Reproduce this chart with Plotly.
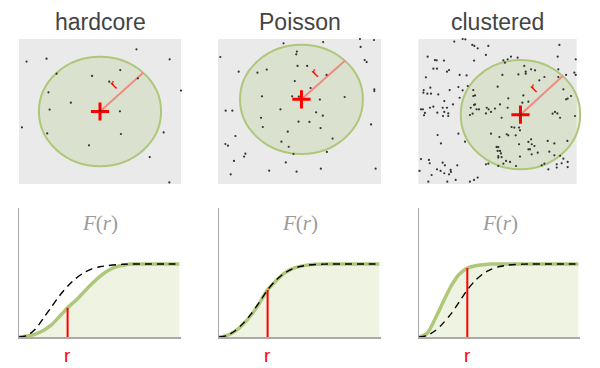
import math
import plotly.graph_objects as go

# ---------------- data ----------------
panel_titles = ["hardcore", "Poisson", "clustered"]

hardcore_x = [0.047, 0.170, 0.725, 0.930, 0.232, 0.451, 0.625, 0.557, 0.734, 1.000, 0.182,
              0.320, 0.189, 0.500, 0.623, 0.018, 0.174, 0.893, 0.629, 0.432, 0.807, 0.928]
hardcore_y = [0.844, 0.864, 0.929, 0.860, 0.761, 0.745, 0.786, 0.706, 0.729, 0.644, 0.632,
              0.561, 0.513, 0.505, 0.501, 0.391, 0.349, 0.356, 0.345, 0.267, 0.186, 0.011]

poisson_x = [0.402, 0.645, 0.871, 0.957, 0.014, 0.484, 0.480, 0.875, 0.900, 0.912, 0.127,
             0.242, 0.299, 0.488, 0.547, 0.666, 0.471, 0.568, 0.959, 0.959, 0.270, 0.455,
             0.496, 0.625, 0.777, 0.047, 0.088, 0.383, 0.602, 0.643, 0.264, 0.275, 0.494,
             0.561, 0.629, 0.939, 0.107, 0.428, 0.703, 0.045, 0.061, 0.389, 0.434, 0.168,
             0.160, 0.463, 0.668, 0.098, 0.416, 0.078, 0.314, 0.482, 0.631, 0.967]
poisson_y = [0.970, 0.979, 1.000, 0.993, 0.876, 0.913, 0.894, 0.945, 0.855, 0.841, 0.775,
             0.768, 0.789, 0.814, 0.814, 0.752, 0.710, 0.662, 0.653, 0.641, 0.605, 0.605,
             0.602, 0.582, 0.600, 0.506, 0.506, 0.515, 0.494, 0.471, 0.457, 0.393, 0.430,
             0.428, 0.386, 0.411, 0.331, 0.361, 0.313, 0.276, 0.264, 0.292, 0.257, 0.209,
             0.189, 0.207, 0.221, 0.159, 0.149, 0.067, 0.092, 0.085, 0.106, 0.106]

clustered_x = [0.227, 0.280, 0.297, 0.341, 0.354, 0.375, 0.442, 0.427, 0.059, 0.105, 0.116,
               0.162, 0.352, 0.095, 0.118, 0.181, 0.194, 0.261, 0.305, 0.048, 0.076, 0.253,
               0.312, 0.034, 0.032, 0.057, 0.080, 0.198, 0.280, 0.347, 0.126, 0.358, 0.347,
               0.261, 0.164, 0.219, 0.074, 0.095, 0.358, 0.154, 0.181, 0.017, 0.029, 0.331,
               0.352, 0.368, 0.383, 0.432, 0.444, 0.484, 0.427, 0.120, 0.164, 0.042, 0.036,
               0.189, 0.189, 0.156, 0.343, 0.326, 0.459, 0.122, 0.253, 0.143, 0.295, 0.459,
               0.495, 0.501, 0.017, 0.067, 0.072, 0.154, 0.168, 0.118, 0.141, 0.204, 0.206,
               0.164, 0.084, 0.194, 0.008, 0.246, 0.427, 0.442, 0.063, 0.183, 0.236, 0.326,
               0.375, 0.352, 0.505, 0.505,
               0.891, 0.994, 0.880, 0.585, 0.564, 0.537, 0.627, 0.547, 0.669, 0.737, 0.712,
               0.678, 0.678, 0.632, 0.531, 0.884, 0.933, 0.985, 0.994, 0.796, 0.884, 0.764,
               0.916, 0.964, 0.943, 0.933, 0.501, 0.568, 0.663, 0.657, 0.695, 0.516, 0.564,
               0.863, 0.878, 0.848, 0.895, 0.989, 0.526, 0.589, 0.606, 0.636, 0.642, 0.558,
               0.568, 0.615, 0.512, 0.712, 0.695, 0.636, 0.716, 0.733, 0.695, 0.705, 0.495,
               0.505, 0.516, 0.522, 0.505, 0.526, 0.817, 0.859, 0.827, 0.941, 0.754, 0.716,
               0.642, 0.554, 0.579, 0.537, 0.796, 0.779, 0.859, 0.895, 0.916, 0.943, 0.905,
               0.943, 0.821, 0.874, 0.874, 0.617, 0.645]
clustered_y = [0.982, 1.000, 0.998, 0.959, 0.952, 0.936, 0.952, 0.890, 0.878, 0.855, 0.853,
               0.851, 0.851, 0.795, 0.795, 0.775, 0.786, 0.752, 0.749, 0.736, 0.664, 0.669,
               0.676, 0.648, 0.630, 0.623, 0.623, 0.648, 0.646, 0.648, 0.618, 0.611, 0.607,
               0.595, 0.572, 0.549, 0.526, 0.533, 0.549, 0.526, 0.526, 0.515, 0.515, 0.526,
               0.545, 0.515, 0.515, 0.526, 0.515, 0.520, 0.487, 0.492, 0.497, 0.490, 0.474,
               0.487, 0.469, 0.469, 0.485, 0.476, 0.497, 0.338, 0.347, 0.280, 0.292, 0.347,
               0.257, 0.228, 0.172, 0.166, 0.143, 0.147, 0.129, 0.101, 0.090, 0.097, 0.083,
               0.074, 0.062, 0.067, 0.090, 0.129, 0.136, 0.140, 0.016, 0.016, 0.028, 0.016,
               0.044, 0.028, 0.182, 0.124,
               0.959, 0.860, 0.878, 0.878, 0.860, 0.853, 0.871, 0.837, 0.814, 0.784, 0.791,
               0.775, 0.761, 0.756, 0.752, 0.791, 0.752, 0.768, 0.752, 0.738, 0.738, 0.715,
               0.653, 0.607, 0.589, 0.584, 0.671, 0.591, 0.611, 0.561, 0.568, 0.549, 0.526,
               0.497, 0.487, 0.485, 0.457, 0.469, 0.457, 0.393, 0.389, 0.389, 0.370, 0.343,
               0.336, 0.336, 0.324, 0.308, 0.290, 0.274, 0.274, 0.262, 0.239, 0.239, 0.255,
               0.255, 0.228, 0.211, 0.193, 0.186, 0.297, 0.280, 0.223, 0.297, 0.216, 0.205,
               0.189, 0.159, 0.152, 0.140, 0.140, 0.129, 0.198, 0.195, 0.175, 0.152, 0.143,
               0.117, 0.101, 0.136, 0.113, 0.124, 0.478]

circle_cx = [0.500, 0.512, 0.645]
circle_cy = [0.500, 0.584, 0.478]
circle_r = 0.377
radius_angle_deg = 45

r_grid = [0, 0.05, 0.1, 0.15, 0.2, 0.25, 0.3, 0.35, 0.4, 0.45, 0.5, 0.55, 0.6, 0.65,
          0.7, 0.8, 0.9, 0.99]
F_hardcore = [0, 0.014, 0.04, 0.09, 0.165, 0.28, 0.40, 0.50, 0.615, 0.728, 0.83, 0.91,
              0.962, 0.986, 1.0, 1.0, 1.0, 1.0]
F_hardcore_theory = [0, 0.02, 0.105, 0.255, 0.41, 0.565, 0.695, 0.80, 0.88, 0.933, 0.962,
                     0.978, 0.99, 0.997, 1.0, 1.0, 1.0, 1.0]
F_poisson = [0, 0.023, 0.08, 0.178, 0.305, 0.465, 0.645, 0.765, 0.869, 0.934, 0.967, 0.986,
             0.995, 1.0, 1.0, 1.0, 1.0, 1.0]
F_poisson_theory = [0, 0.02, 0.085, 0.19, 0.32, 0.48, 0.645, 0.775, 0.868, 0.93, 0.965,
                    0.984, 0.994, 0.998, 1.0, 1.0, 1.0, 1.0]
F_clustered = [0, 0.05, 0.25, 0.48, 0.70, 0.86, 0.944, 0.977, 0.991, 1.0, 1.0, 1.0, 1.0,
               1.0, 1.0, 1.0, 1.0, 1.0]
F_clustered_theory = [0, 0.02, 0.085, 0.19, 0.32, 0.48, 0.645, 0.775, 0.868, 0.93, 0.965,
                      0.984, 0.994, 0.998, 1.0, 1.0, 1.0, 1.0]
r_mark = 0.3

# ---------------- layout helpers ----------------
W, H = 600, 368
PAD = 0.05
GRAY = "#eaeaea"
GREEN = "#aec77a"
FILL_GREEN = "#eff3e1"
CIRCLE_FILL = "rgba(170,196,112,0.22)"

top_boxes = [(19, 181, 39, 184), (218, 381, 39, 184), (418.3, 576.7, 39, 184)]
bottom_boxes = [(19, 181, 208, 337), (219, 381, 208, 337), (419, 580, 208, 337)]


def top_domain(box):
    x0, x1, y0, y1 = box
    w, h = x1 - x0, y1 - y0
    return ([(x0 - PAD * w) / W, (x1 + PAD * w) / W],
            [1 - (y1 + PAD * h) / H, 1 - (y0 - PAD * h) / H])


fig = go.Figure()
layout = dict(width=W, height=H, margin=dict(l=0, r=0, t=0, b=0),
              paper_bgcolor="white", plot_bgcolor="rgba(0,0,0,0)",
              showlegend=False, shapes=[], annotations=[])

point_sets = [(hardcore_x, hardcore_y), (poisson_x, poisson_y), (clustered_x, clustered_y)]
ang = math.radians(radius_angle_deg)

for i in range(3):
    n = i + 1
    xa, ya = (f"x{n}", f"y{n}") if n > 1 else ("x", "y")
    dx, dy = top_domain(top_boxes[i])
    layout[f"xaxis{n}"] = dict(domain=dx, range=[-PAD, 1 + PAD], anchor=ya, visible=False,
                               fixedrange=True)
    layout[f"yaxis{n}"] = dict(domain=dy, range=[-PAD, 1 + PAD], anchor=xa, visible=False,
                               fixedrange=True)
    cx, cy = circle_cx[i], circle_cy[i]
    layout["shapes"].append(dict(type="rect", xref=xa, yref=ya, x0=0, x1=1, y0=0, y1=1,
                                 fillcolor=GRAY, line=dict(width=0), layer="below"))
    layout["shapes"].append(dict(type="circle", xref=xa, yref=ya,
                                 x0=cx - circle_r, x1=cx + circle_r,
                                 y0=cy - circle_r, y1=cy + circle_r,
                                 fillcolor=CIRCLE_FILL, line=dict(color=GREEN, width=2),
                                 layer="below"))
    fig.add_trace(go.Scatter(x=[cx, cx + circle_r * math.cos(ang)],
                             y=[cy, cy + circle_r * math.sin(ang)],
                             mode="lines", line=dict(color="#f08a80", width=2),
                             xaxis=xa, yaxis=ya, hoverinfo="skip", cliponaxis=False))
    fig.add_trace(go.Scatter(x=[cx], y=[cy], mode="markers",
                             marker=dict(symbol="cross-thin", size=13,
                                         line=dict(color="red", width=3)),
                             xaxis=xa, yaxis=ya, hoverinfo="skip", cliponaxis=False))
    px, py = point_sets[i]
    fig.add_trace(go.Scatter(x=px, y=py, mode="markers",
                             marker=dict(size=2.2, color="#333333"),
                             xaxis=xa, yaxis=ya, hoverinfo="skip", cliponaxis=False))
    layout["annotations"].append(dict(text=panel_titles[i], xref=xa, x=0.5, yref="paper",
                                      y=1 - 22 / H, showarrow=False, yanchor="middle",
                                      font=dict(family="Liberation Sans, Arial", size=23,
                                                color="#444444")))
    layout["annotations"].append(dict(text="r", xref=xa, yref=ya, x=cx, y=cy, xshift=13,
                                      yshift=27, textangle=-radius_angle_deg,
                                      showarrow=False,
                                      font=dict(family="Liberation Sans, Arial", size=15,
                                                color="red")))

curves = [(F_hardcore, F_hardcore_theory), (F_poisson, F_poisson_theory),
          (F_clustered, F_clustered_theory)]
y_top = 1.767

for i in range(3):
    n = i + 4
    xa, ya = f"x{n}", f"y{n}"
    x0, x1, y0, y1 = bottom_boxes[i]
    axis_style = dict(showgrid=False, zeroline=False, showticklabels=False, ticks="",
                      showline=True, linecolor="#aaaaaa", linewidth=1.5, fixedrange=True)
    layout[f"xaxis{n}"] = dict(domain=[x0 / W, x1 / W], range=[0, 1], anchor=ya,
                               **axis_style)
    layout[f"yaxis{n}"] = dict(domain=[1 - y1 / H, 1 - y0 / H], range=[0, y_top],
                               anchor=xa, **axis_style)
    F, Ft = curves[i]
    fig.add_trace(go.Scatter(x=r_grid, y=F, mode="lines", fill="tozeroy",
                             fillcolor=FILL_GREEN,
                             line=dict(color=GREEN, width=3.5, shape="spline",
                                       smoothing=0.8),
                             xaxis=xa, yaxis=ya, hoverinfo="skip"))
    fig.add_trace(go.Scatter(x=r_grid, y=Ft, mode="lines",
                             line=dict(color="black", width=1.4, dash="7px,5px",
                                       shape="spline", smoothing=0.8),
                             xaxis=xa, yaxis=ya, hoverinfo="skip"))
    F_at = F[r_grid.index(r_mark)]
    fig.add_trace(go.Scatter(x=[r_mark, r_mark], y=[0, F_at], mode="lines",
                             line=dict(color="red", width=2),
                             xaxis=xa, yaxis=ya, hoverinfo="skip"))
    layout["annotations"].append(dict(text="<i>F</i>(<i>r</i>)", xref=f"{xa} domain", x=0.5,
                                      yref=f"{ya} domain", y=0.884, yanchor="middle",
                                      showarrow=False,
                                      font=dict(family="Liberation Serif, Times New Roman",
                                                size=21, color="#9a9a9a")))
    layout["annotations"].append(dict(text="r", xref=xa, x=r_mark, yref=ya, y=0,
                                      yshift=-18, showarrow=False, yanchor="middle",
                                      font=dict(family="Liberation Sans, Arial", size=19,
                                                color="red")))

fig.update_layout(**layout)
fig.write_html("out.html", config={"displayModeBar": False, "staticPlot": True},
               post_script="document.body.style.margin='0';document.body.style.overflow='hidden';")
